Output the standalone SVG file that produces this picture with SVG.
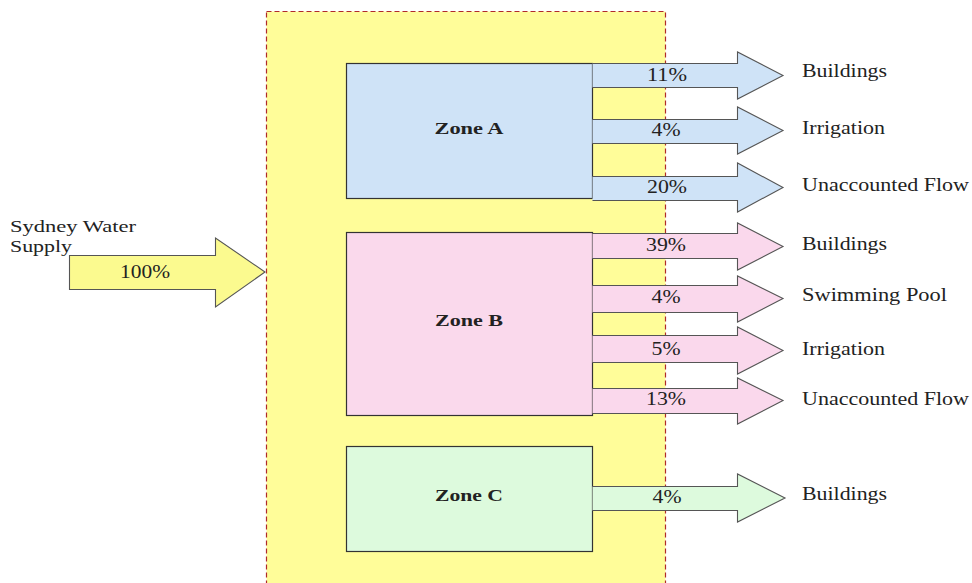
<svg xmlns="http://www.w3.org/2000/svg" width="972" height="583" viewBox="0 0 972 583">
<style>
text{font-family:"Liberation Serif","Times New Roman",serif;font-size:18px;fill:#222}
.zl{font-weight:bold;text-anchor:middle;font-size:17.5px}
.pc{text-anchor:middle}
.src{font-size:17px}
.zone{stroke:#333;stroke-width:1.2}
.arr{stroke:#555;stroke-width:1.1;stroke-linejoin:miter}
.a{fill:#cfe3f7}.b{fill:#fad8ec}.c{fill:#ddfadd}.y{fill:#fbfa8f}
</style>
<rect id="boundary" x="266.5" y="11.5" width="399" height="580" fill="#fffd99" stroke="#b02a2a" stroke-width="1.2" stroke-dasharray="5,3"/>
<g id="zoneA"><rect class="zone" x="346.5" y="63.5" width="246" height="135" fill="#cfe3f7"/><text class="zl" x="469" y="134" textLength="69" lengthAdjust="spacingAndGlyphs">Zone A</text></g>
<g id="zoneB"><rect class="zone" x="346.5" y="232.5" width="246" height="183" fill="#fad9ec"/><text class="zl" x="469" y="326" textLength="68" lengthAdjust="spacingAndGlyphs">Zone B</text></g>
<g id="zoneC"><rect class="zone" x="346.5" y="446.5" width="246" height="105" fill="#ddfadd"/><text class="zl" x="469" y="501" textLength="68" lengthAdjust="spacingAndGlyphs">Zone C</text></g>
<g id="connectors">
<path class="arr y" d="M69.5,255.5 H215.5 V238 L265,272 L215.5,307 V289.5 H69.5 Z"/>
<path class="arr a" d="M592.5,63.5 H737.5 V52 L783,75.5 L737.5,99 V87.5 H592.5"/>
<path class="arr a" d="M592.5,119.5 H737.5 V107 L783,130.5 L737.5,154 V143.5 H592.5"/>
<path class="arr a" d="M592.5,176.5 H737.5 V163 L783,187.5 L737.5,212 V200.5 H592.5"/>
<path class="arr b" d="M592.5,233.5 H737.5 V223 L783,246.5 L737.5,270 V258.5 H592.5"/>
<path class="arr b" d="M592.5,285.5 H737.5 V276 L783,298.5 L737.5,322 V312.5 H592.5"/>
<path class="arr b" d="M592.5,335.5 H737.5 V327 L783,350.5 L737.5,374 V362.5 H592.5"/>
<path class="arr b" d="M592.5,388.5 H737.5 V378 L783,400.5 L737.5,424 V413.5 H592.5"/>
<path class="arr c" d="M592.5,486.5 H737.5 V474 L785,498 L737.5,522 V510.5 H592.5"/>
</g>
<g id="labels">
<text class="src" x="10" y="232" textLength="126" lengthAdjust="spacingAndGlyphs">Sydney Water</text>
<text class="src" x="10" y="252" textLength="62" lengthAdjust="spacingAndGlyphs">Supply</text>
<text class="pc" x="145" y="278" textLength="50" lengthAdjust="spacingAndGlyphs">100%</text>
<text class="pc" x="667" y="81" textLength="40" lengthAdjust="spacingAndGlyphs">11%</text>
<text class="pc" x="666" y="136" textLength="29" lengthAdjust="spacingAndGlyphs">4%</text>
<text class="pc" x="667" y="193" textLength="40" lengthAdjust="spacingAndGlyphs">20%</text>
<text class="pc" x="666" y="251" textLength="40" lengthAdjust="spacingAndGlyphs">39%</text>
<text class="pc" x="666" y="303" textLength="29" lengthAdjust="spacingAndGlyphs">4%</text>
<text class="pc" x="666" y="355" textLength="29" lengthAdjust="spacingAndGlyphs">5%</text>
<text class="pc" x="666" y="405" textLength="40" lengthAdjust="spacingAndGlyphs">13%</text>
<text class="pc" x="667" y="503" textLength="29" lengthAdjust="spacingAndGlyphs">4%</text>
<text x="802" y="77" textLength="85" lengthAdjust="spacingAndGlyphs">Buildings</text>
<text x="802" y="134" textLength="83" lengthAdjust="spacingAndGlyphs">Irrigation</text>
<text x="802" y="191" textLength="167" lengthAdjust="spacingAndGlyphs">Unaccounted Flow</text>
<text x="802" y="250" textLength="85" lengthAdjust="spacingAndGlyphs">Buildings</text>
<text x="802" y="301" textLength="145" lengthAdjust="spacingAndGlyphs">Swimming Pool</text>
<text x="802" y="355" textLength="83" lengthAdjust="spacingAndGlyphs">Irrigation</text>
<text x="802" y="405" textLength="167" lengthAdjust="spacingAndGlyphs">Unaccounted Flow</text>
<text x="802" y="500" textLength="85" lengthAdjust="spacingAndGlyphs">Buildings</text>
</g>
</svg>
